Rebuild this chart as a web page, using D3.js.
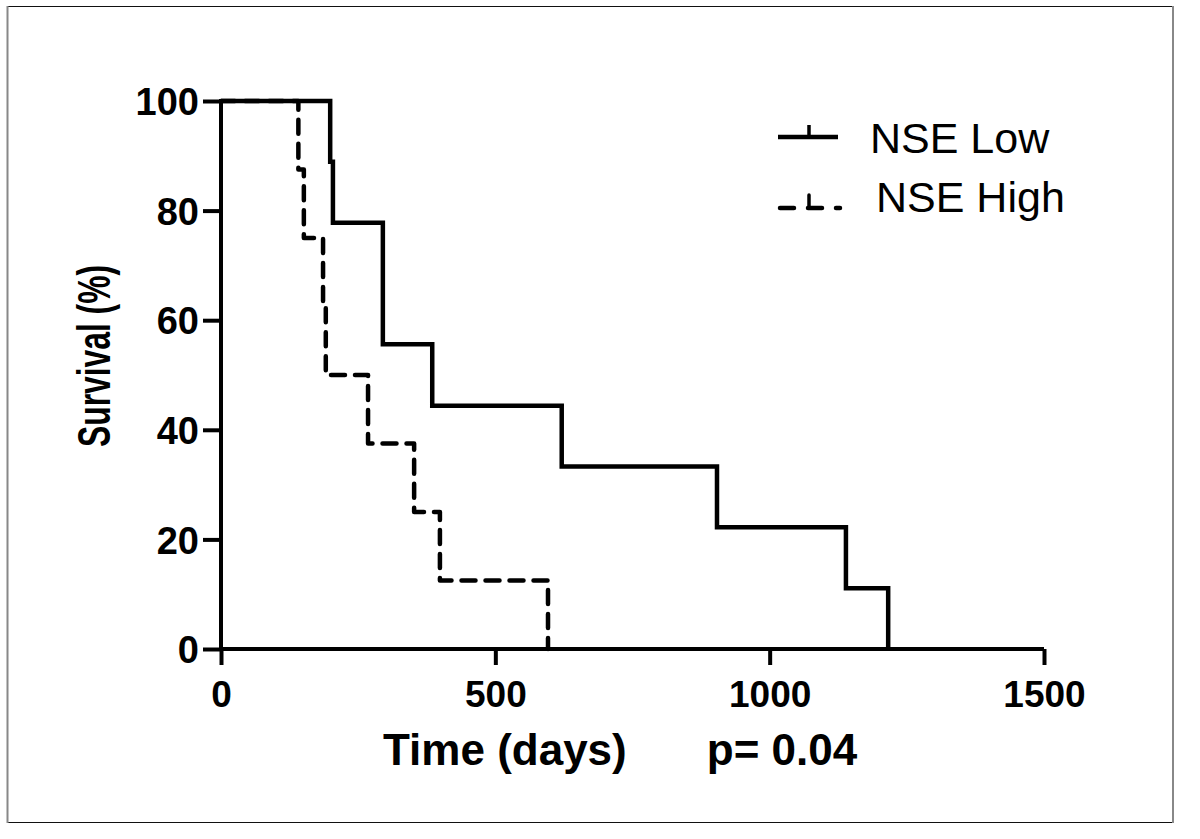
<!DOCTYPE html>
<html>
<head>
<meta charset="utf-8">
<script src="https://cdn.jsdelivr.net/npm/d3@7"></script>
<style>
  html, body { margin: 0; padding: 0; background: #fff; }
  svg { display: block; }
</style>
</head>
<body>
<svg id="chart" width="1200" height="839"></svg>
<script>
// ---- data ----
const seriesNames = ["NSE Low", "NSE High"];
const lowTimes  = [0, 199, 204, 295, 385, 621, 904, 1139, 1216];
const lowSurv   = [100, 88.9, 77.8, 55.6, 44.4, 33.3, 22.2, 11.1, 0];
const highTimes = [0, 141, 151, 186, 191, 268, 352, 399, 596];
const highSurv  = [100, 87.5, 75, 62.5, 50, 37.5, 25, 12.5, 0];
const xTicks = [0, 500, 1000, 1500];
const yTicks = [0, 20, 40, 60, 80, 100];
const xTitle = "Time (days)";
const yTitle = "Survival (%)";
const pText = "p= 0.04";

const svg = d3.select("#chart");
const W = 1200, H = 839;

// frame
svg.append("rect").attr("x", 0).attr("y", 0).attr("width", W).attr("height", H).attr("fill", "#fff");
svg.append("line").attr("x1", 7).attr("x2", 1173).attr("y1", 6.5).attr("y2", 6.5).attr("stroke", "#111").attr("stroke-width", 1);
svg.append("line").attr("x1", 7).attr("x2", 1173).attr("y1", 822.5).attr("y2", 822.5).attr("stroke", "#111").attr("stroke-width", 1);
svg.append("line").attr("x1", 7.5).attr("x2", 7.5).attr("y1", 6).attr("y2", 823).attr("stroke", "#888").attr("stroke-width", 2);
svg.append("line").attr("x1", 1173).attr("x2", 1173).attr("y1", 6).attr("y2", 823).attr("stroke", "#888").attr("stroke-width", 2);

const x = d3.scaleLinear().domain([0, 1500]).range([221, 1044]);
const y = d3.scaleLinear().domain([0, 100]).range([649, 101]);

const axisFont = "'Liberation Sans', Arial, Helvetica, sans-serif";

// x axis
const xAxis = d3.axisBottom(x).tickValues(xTicks).tickFormat(d3.format("d"))
  .tickSize(16).tickPadding(16).tickSizeOuter(0);
const gx = svg.append("g").attr("transform", `translate(0,${y(0)})`).call(xAxis);
gx.select(".domain").attr("stroke", "#000").attr("stroke-width", 4).attr("d", `M${x(0)},0H${x(1500)}`);
gx.selectAll(".tick line").attr("stroke", "#000").attr("stroke-width", 4);
gx.selectAll(".tick text").attr("font-family", axisFont).attr("font-weight", "bold")
  .attr("font-size", 37).attr("fill", "#000").attr("dy", "0.71em");

// y axis
const yAxis = d3.axisLeft(y).tickValues(yTicks).tickFormat(d3.format("d"))
  .tickSize(18).tickPadding(4).tickSizeOuter(0);
const gy = svg.append("g").attr("transform", `translate(${x(0)},0)`).call(yAxis);
gy.select(".domain").attr("stroke", "#000").attr("stroke-width", 4).attr("d", `M0,${y(100)-2}V${y(0)}`);
gy.selectAll(".tick line").attr("stroke", "#000").attr("stroke-width", 4);
gy.selectAll(".tick text").attr("font-family", axisFont).attr("font-weight", "bold")
  .attr("font-size", 38).attr("fill", "#000").attr("dy", "0.36em");

// titles
svg.append("text").attr("x", 383).attr("y", 765).attr("font-family", axisFont)
  .attr("font-weight", "bold").attr("font-size", 44).attr("fill", "#000").text(xTitle);
svg.append("text").attr("x", 782).attr("y", 765).attr("text-anchor", "middle").attr("font-family", axisFont)
  .attr("font-weight", "bold").attr("font-size", 44).attr("fill", "#000").text(pText);
svg.append("text").attr("transform", "translate(110,356) rotate(-90)").attr("text-anchor", "middle")
  .attr("font-family", axisFont).attr("font-weight", "bold").attr("font-size", 47)
  .attr("textLength", 182).attr("lengthAdjust", "spacingAndGlyphs").attr("fill", "#000").text(yTitle);

// curves
const line = d3.line().x(d => x(d[0])).y(d => y(d[1])).curve(d3.curveStepAfter);
const lowData = lowTimes.map((t, i) => [t, lowSurv[i]]);
const highData = highTimes.map((t, i) => [t, highSurv[i]]);

svg.append("path").datum(lowData).attr("d", line).attr("fill", "none")
  .attr("stroke", "#000").attr("stroke-width", 4.5).attr("stroke-linejoin", "miter");
svg.append("path").datum(highData).attr("d", line).attr("fill", "none")
  .attr("stroke", "#000").attr("stroke-width", 4.5).attr("stroke-dasharray", "14,10")
  .attr("stroke-linecap", "round").attr("stroke-linejoin", "round");

// legend
const lg = svg.append("g");
lg.append("line").attr("x1", 778).attr("x2", 838).attr("y1", 137).attr("y2", 137)
  .attr("stroke", "#000").attr("stroke-width", 4.5);
lg.append("line").attr("x1", 809).attr("x2", 809).attr("y1", 125).attr("y2", 137)
  .attr("stroke", "#000").attr("stroke-width", 3.5);
lg.append("text").attr("x", 870).attr("y", 153).attr("font-family", axisFont)
  .attr("font-size", 43).attr("fill", "#000").text(seriesNames[0]);

lg.append("line").attr("x1", 780).attr("x2", 840).attr("y1", 208).attr("y2", 208)
  .attr("stroke", "#000").attr("stroke-width", 4.5).attr("stroke-dasharray", "14,14")
  .attr("stroke-linecap", "round");
lg.append("line").attr("x1", 809).attr("x2", 809).attr("y1", 195).attr("y2", 208)
  .attr("stroke", "#000").attr("stroke-width", 3.5).attr("stroke-linecap", "round");
lg.append("text").attr("x", 876).attr("y", 212).attr("font-family", axisFont)
  .attr("font-size", 43).attr("fill", "#000").text(seriesNames[1]);
</script>
</body>
</html>
